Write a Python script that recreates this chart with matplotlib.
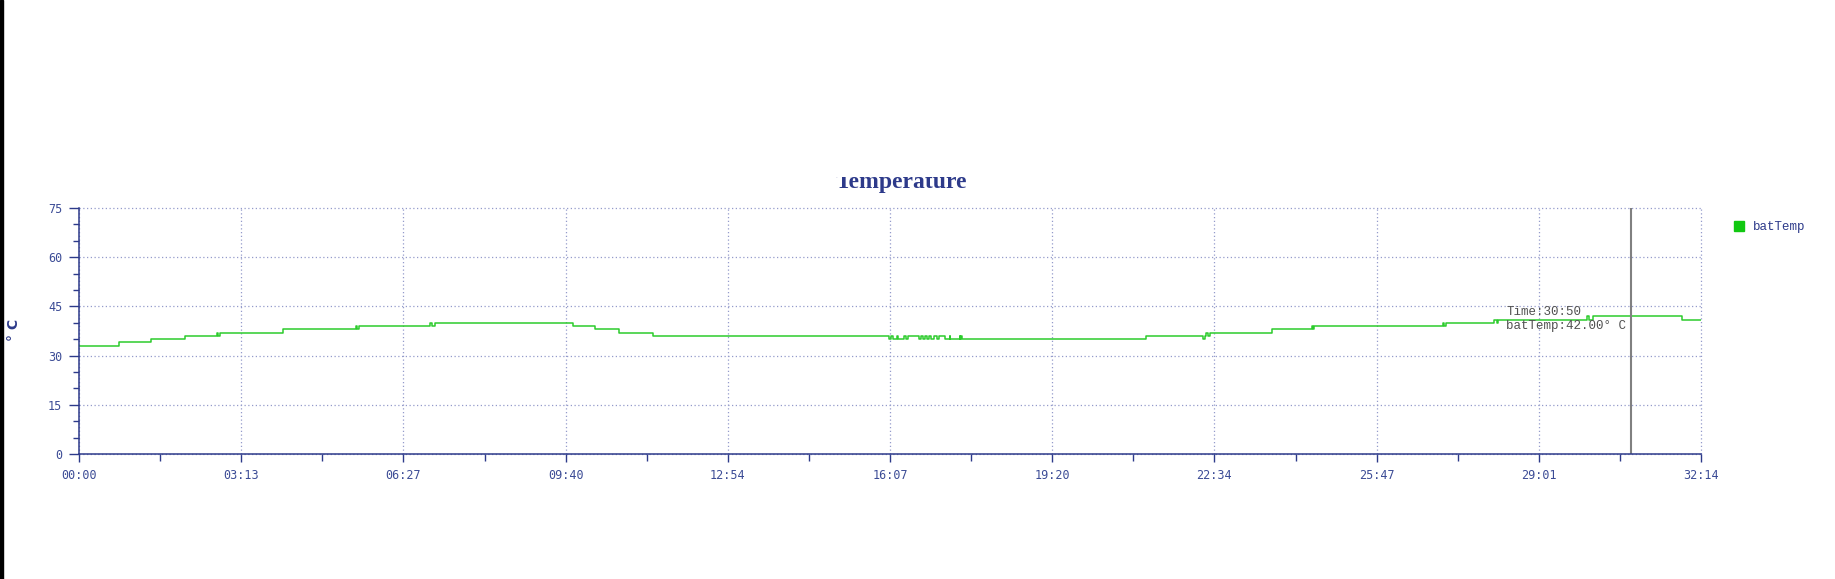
import numpy as np
from matplotlib import pyplot as plt
from matplotlib.lines import Line2D
from matplotlib.patches import Rectangle
from matplotlib.ticker import FuncFormatter
from matplotlib.transforms import Bbox, TransformedBbox

# battery temperature log, seconds since start -> degC (value changes only)
times = [0, 48, 86, 126, 164, 166, 168, 243, 330, 332, 334, 418, 421, 424,
         589, 615, 644, 684,
         966, 968, 970, 975, 977, 984, 986, 988,
         1001, 1004, 1006, 1009, 1011, 1014, 1016, 1020, 1023, 1026, 1032,
         1038, 1039, 1050, 1051, 1052, 1053,
         1272, 1340, 1342, 1344, 1346, 1348, 1423, 1470, 1471, 1472,
         1626, 1628, 1630, 1687, 1691, 1692, 1798, 1800, 1805, 1911, 1934]
temps = [33, 34, 35, 36, 37, 36, 37, 38, 39, 38, 39, 40, 39, 40,
         39, 38, 37, 36,
         35, 36, 35, 36, 35, 36, 35, 36,
         35, 36, 35, 36, 35, 36, 35, 36, 35, 36, 35,
         36, 35, 36, 35, 36, 35,
         36, 35, 36, 37, 36, 37, 38, 39, 38, 39,
         40, 39, 40, 41, 40, 41, 42, 41, 42, 41, 41]
total = 1934
cursor_t = 1850

navy = "#2d3a8a"
label_col = "#3c4c96"
grid_col = "#949bcb"
green = "#2ccb2c"
mono = "Liberation Mono"
tickfont = "DejaVu Sans Mono"


def mmss(v, pos=None):
    s = int(round(v))
    return f"{s // 60:02d}:{s % 60:02d}"


fig = plt.figure(figsize=(18.35, 5.79), dpi=100)
ax = fig.add_axes([79/1835, 1 - 454/579, (1701-79)/1835, (454-208)/579])

ax.plot(times, temps, drawstyle="steps-post", color=green, lw=1.1)
ax.axvline(cursor_t, color="#808080", lw=1.5)

ax.set_xlim(0, total)
ax.set_ylim(0, 75)
ax.set_xticks(np.linspace(0, total, 11))
ax.set_xticks(np.linspace(0, total, 21), minor=True)
ax.set_yticks(np.arange(0, 76, 15))
ax.set_yticks(np.arange(0, 76, 5), minor=True)
ax.xaxis.set_major_formatter(FuncFormatter(mmss))

ax.grid(True, which="major", color=grid_col, linestyle=(0, (1, 2)), lw=0.9)
for gl in ax.get_xgridlines() + ax.get_ygridlines():
    gl.set_clip_on(False)
for s in ["top", "right"]:
    ax.spines[s].set_visible(False)
for s in ["left", "bottom"]:
    ax.spines[s].set_color(navy)
    ax.spines[s].set_linewidth(1.1)

ax.tick_params(axis="y", which="major", length=7, width=1, color=navy,
               labelcolor=label_col, labelsize=8.5, pad=5)
ax.tick_params(axis="y", which="minor", length=4, width=1, color=navy)
ax.tick_params(axis="x", which="major", length=6, width=1, color=navy,
               labelcolor=label_col, labelsize=8.5, pad=5)
ax.tick_params(axis="x", which="minor", length=5, width=1, color=navy)
for lab in ax.get_xticklabels() + ax.get_yticklabels():
    lab.set_family(tickfont)

# tooltip at cursor
idx = np.searchsorted(times, cursor_t, side="right") - 1
ax.text(1702, 45.2, f"Time:{mmss(cursor_t)}\nbatTemp:{temps[idx]:.2f}° C",
        fontsize=9, family=mono, color="#505050", va="top", ha="left",
        linespacing=1.2)

# title, cut off at the top like in the screenshot
title = fig.text(901/1835, 1 - 188/579, "Temperature", ha="center",
                 va="baseline", fontsize=17, weight="bold",
                 family="Liberation Serif", color=navy)
title.set_clip_box(TransformedBbox(Bbox([[0, 0], [1, 1 - 177/579]]),
                                   fig.transFigure))
title.set_clip_on(True)

fig.text(14/1835, 1 - 330/579, "° C", rotation=90, ha="center", va="center",
         fontsize=10, weight="bold", color=navy)

handle = Line2D([], [], marker="s", color="#11c811", linestyle="none",
                markersize=7)
fig.legend([handle], ["batTemp"], loc="center left",
           bbox_to_anchor=(1725/1835, 1 - 227/579), frameon=False,
           prop={"family": mono, "size": 9}, labelcolor=navy,
           handletextpad=0.5, borderpad=0, handlelength=1.2)

# black strip at the left edge of the screenshot
fig.patches.append(Rectangle((0, 0), 2.5/1835, 1, transform=fig.transFigure,
                             color="black", zorder=5))

plt.savefig("out.png", dpi=100)
plt.close()
